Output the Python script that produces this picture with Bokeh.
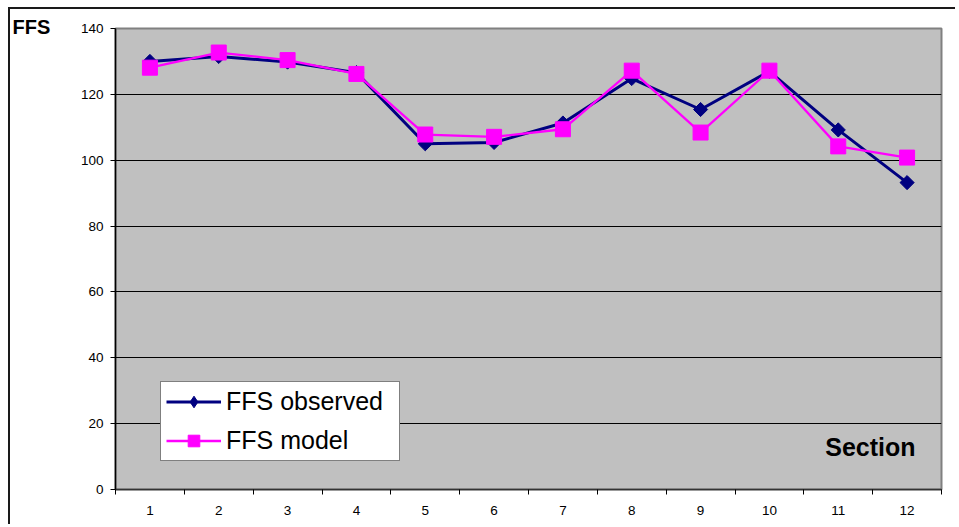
import numpy as np
from bokeh.plotting import figure
from bokeh.models import Range1d, FixedTicker, Label, Legend, LegendItem, Title
from bokeh.embed import file_html
from bokeh.resources import INLINE

sections = [1, 2, 3, 4, 5, 6, 7, 8, 9, 10, 11, 12]
ffs_observed = [130.0, 131.5, 129.8, 126.6, 105.0, 105.4, 111.3, 124.8, 115.4, 127.0, 109.2, 93.2]
ffs_model = [128.1, 132.7, 130.4, 126.2, 107.8, 107.1, 109.4, 127.2, 108.4, 127.2, 104.2, 100.8]
y_ticks = [0, 20, 40, 60, 80, 100, 120, 140]

FONT = "Liberation Sans"

# canvas placed at page (10, 9); frame at page x 115..941, y 28..489
p = figure(width=947, height=517, output_backend="svg", toolbar_location=None,
           x_range=Range1d(0.5, 12.5), y_range=Range1d(0, 140),
           min_border_left=105, min_border_top=19, min_border_right=16, min_border_bottom=37)
p.styles = {"margin-left": "10px", "margin-top": "9px",
            "box-shadow": "-2px -2px 0 0 #1a1a1a"}

p.background_fill_color = "#C0C0C0"
p.border_fill_color = "white"
p.outline_line_color = "#808080"
p.outline_line_width = 2

# "FFS" axis title at the top-left, outside the plot frame
p.add_layout(Title(text="FFS", align="left", offset=-103, standoff=-18,
                   vertical_align="bottom", text_font=FONT, text_font_size="20px",
                   text_font_style="bold", text_color="black"), "above")

# axes
p.xaxis.ticker = FixedTicker(ticks=sections, minor_ticks=[s - 0.5 for s in sections] + [12.5])
p.xaxis.major_tick_line_color = None
p.xaxis.major_tick_out = 5
p.xaxis.major_tick_in = 0
p.xaxis.minor_tick_out = 5
p.xaxis.minor_tick_in = 0
p.xaxis.minor_tick_line_color = "black"
p.xaxis.axis_line_color = "#333333"
p.xaxis.axis_line_width = 1.5
p.xaxis.major_label_standoff = 11

p.yaxis.ticker = FixedTicker(ticks=y_ticks)
p.yaxis.minor_tick_line_color = None
p.yaxis.major_tick_out = 5
p.yaxis.major_tick_in = 0
p.yaxis.major_tick_line_color = "black"
p.yaxis.axis_line_color = "black"
p.yaxis.axis_line_width = 1.5
p.yaxis.major_label_standoff = 7

for ax in (p.xaxis, p.yaxis):
    ax.major_label_text_font = FONT
    ax.major_label_text_font_size = "13.5px"
    ax.major_label_text_color = "black"

p.xgrid.grid_line_color = None
p.ygrid.ticker = FixedTicker(ticks=y_ticks[1:-1])
p.ygrid.grid_line_color = "black"
p.ygrid.grid_line_width = 1

# series
l1 = p.line(sections, ffs_observed, line_color="#000080", line_width=3)
# diamond used for the legend symbol; hidden under the plotted markers
d1 = p.scatter(sections, ffs_observed, marker="diamond", size=9,
               fill_color="#000080", line_color="#000080")
m1 = p.scatter(sections, ffs_observed, marker="square", angle=np.pi / 4, size=10,
               fill_color="#000080", line_color="#000080")
l2 = p.line(sections, ffs_model, line_color="#FF00FF", line_width=2.3)
m2 = p.scatter(sections, ffs_model, marker="square", size=15,
               fill_color="#FF00FF", line_color="#FF00FF")

legend = Legend(items=[LegendItem(label="FFS observed", renderers=[l1, d1]),
                       LegendItem(label="FFS model", renderers=[l2, m2])],
                location=(45, 28), orientation="vertical",
                label_text_font=FONT, label_text_font_size="25px",
                label_text_color="black",
                glyph_width=55, glyph_height=29, spacing=10, padding=5,
                margin=0, label_standoff=5, label_width=168,
                border_line_color="black", border_line_width=1,
                background_fill_color="white", background_fill_alpha=1.0)
p.add_layout(legend, "center")

p.add_layout(Label(x=800, y=43, x_units="screen", y_units="screen", text="Section",
                   text_font=FONT, text_font_size="25px", text_font_style="bold",
                   text_color="black",
                   text_baseline="alphabetic", text_align="right"))

open("out.html", "w").write(file_html(p, INLINE))
